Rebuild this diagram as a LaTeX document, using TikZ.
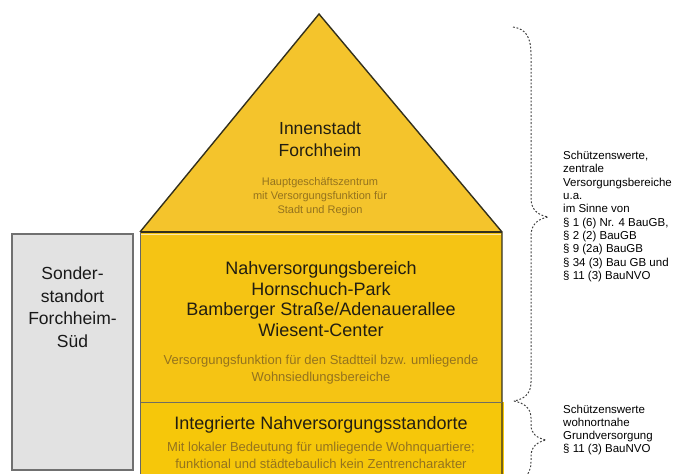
\documentclass[tikz,border=0pt]{standalone}
\usepackage{fontspec}
\setmainfont{Liberation Sans}
\begin{document}
\begin{tikzpicture}[x=1pt,y=-1pt,
  yellowedge/.style={draw=edgedark,line width=1.4pt,line join=miter},
  heading/.style={align=center,text=headtext,inner sep=0pt,font=\fontsize{18}{21}\selectfont},
  subtext/.style={align=center,text=subbrown,inner sep=0pt,font=\fontsize{13}{17}\selectfont},
  sidetext/.style={align=left,anchor=west,text=black,inner sep=0pt,font=\fontsize{11.5}{13.3}\selectfont},
  bracestyle/.style={draw=gray!50!black,dash pattern=on 1.8pt off 1.8pt,line width=1pt}]
\definecolor{edgedark}{HTML}{33301C}
\definecolor{headtext}{HTML}{221E12}
\definecolor{subbrown}{HTML}{94731E}
\definecolor{trifill}{HTML}{F4C42C}
\definecolor{midfill}{HTML}{F5C414}
\definecolor{botfill}{HTML}{F6C70A}
\definecolor{greyfill}{HTML}{E2E2E2}
\definecolor{greyedge}{HTML}{707070}
\useasboundingbox (0,0) rectangle (684,473);
% shapes
\coordinate (tl) at (140,232);
\coordinate (tr) at (502,232);
\coordinate (apex) at (319,14);
\coordinate (ml) at (140,402);
\coordinate (mr) at (502,402);
\fill[trifill] (tl) -- (apex) -- (tr) -- cycle;
\fill[midfill] (tl) rectangle (mr);
\fill[botfill] (ml) rectangle (504,480);
\draw[yellowedge] (tl) -- (apex) -- (tr) -- (502,480);
\draw[yellowedge] (tl) -- (tr);
\draw[draw=white!60!trifill,line width=1pt] (141,234.5) -- (501,234.5);
\draw[draw=edgedark!70,line width=0.9pt] (ml) -- (mr);
\draw[draw=gray!80!black,line width=1pt] (tl) -- (140,480);
% grey box
\node[draw=greyedge,fill=greyfill,line width=1.4pt,minimum width=121pt,minimum height=236pt,inner sep=0pt] (grey) at (72.5,352) {};
\node[align=center,inner sep=0pt,text=black!90,font=\fontsize{17.5}{22.5}\selectfont] (greytext) at (72.5,307) {Sonder-\\standort\\Forchheim-\\Süd};
% triangle texts
\node[heading,font=\fontsize{17.5}{22}\selectfont] (innen) at (320,139) {Innenstadt\\Forchheim};
\node[subtext,font=\fontsize{11}{14}\selectfont] (hgz) at (320,197) {Hauptgeschäftszentrum\\mit Versorgungsfunktion für\\Stadt und Region};
% middle texts
\node[heading,font=\fontsize{18}{20.7}\selectfont] (nvb) at (321,299) {Nahversorgungsbereich\\Hornschuch-Park\\Bamberger Straße/Adenauerallee\\Wiesent-Center};
\node[subtext] (vsf) at (321,369.5) {Versorgungsfunktion für den Stadtteil bzw. umliegende\\Wohnsiedlungsbereiche};
% bottom texts
\node[heading] (ins) at (321,425) {Integrierte Nahversorgungsstandorte};
\node[subtext] (lok) at (321,455.5) {Mit lokaler Bedeutung für umliegende Wohnquartiere;\\funktional und städtebaulich kein Zentrencharakter};
% braces
\coordinate (b1top) at (513,27);
\coordinate (b1tip) at (548,217);
\coordinate (b12) at (514,401);
\coordinate (b2tip) at (546,440);
\coordinate (b2bot) at (525,478);
\draw[bracestyle] (b1top) .. controls (526,29) and (531,37) .. (531,55) -- (531,198)
  .. controls (531,210) and (538,215) .. (b1tip)
  .. controls (538,219) and (531,224) .. (531,236) -- (531,382)
  .. controls (531,394) and (524,399) .. (b12);
\draw[bracestyle] (b12) .. controls (524,403) and (531,408) .. (531,418) -- (531,425)
  .. controls (531,434) and (537,438) .. (b2tip)
  .. controls (537,442) and (531,447) .. (531,456) -- (531,462)
  .. controls (531,470) and (528,474) .. (b2bot);
% side texts
\node[sidetext] (side1) at (563,216.5) {Schützenswerte,\\zentrale\\Versorgungsbereiche\\u.a.\\im Sinne von\\§ 1 (6) Nr. 4 BauGB,\\§ 2 (2) BauGB\\§ 9 (2a) BauGB\\§ 34 (3) Bau GB und\\§ 11 (3) BauNVO};
\node[sidetext] (side2) at (563,430) {Schützenswerte\\wohnortnahe\\Grundversorgung\\§ 11 (3) BauNVO};
\end{tikzpicture}
\end{document}
